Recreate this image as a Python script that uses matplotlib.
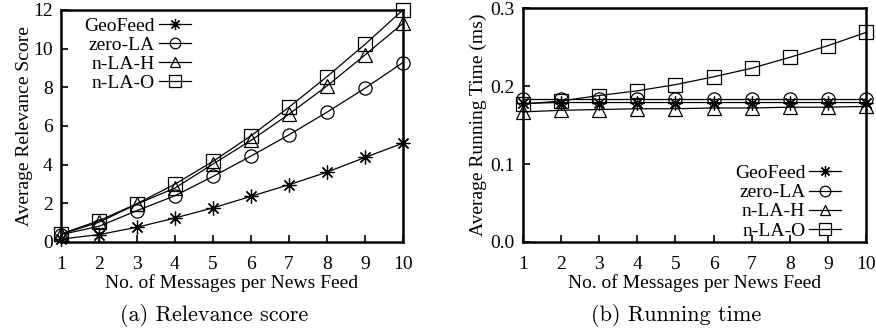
import numpy as np
import matplotlib.pyplot as plt

plt.rcParams['font.family'] = ['Liberation Serif', 'DejaVu Serif']
plt.rcParams['font.size'] = 14

msgs = [1, 2, 3, 4, 5, 6, 7, 8, 9, 10]
names = ['GeoFeed', 'zero-LA', 'n-LA-H', 'n-LA-O']

# average relevance score
score_geofeed = [0.15, 0.38, 0.76, 1.24, 1.76, 2.36, 2.96, 3.61, 4.37, 5.11]
score_zero = [0.38, 0.81, 1.62, 2.39, 3.39, 4.44, 5.54, 6.71, 7.95, 9.28]
score_nlah = [0.40, 1.02, 1.96, 2.79, 4.03, 5.25, 6.61, 8.07, 9.67, 11.31]
score_nlao = [0.42, 1.10, 1.98, 2.99, 4.17, 5.49, 6.97, 8.55, 10.22, 12.0]

# average running time (ms)
time_geofeed = [0.178, 0.179, 0.179, 0.179, 0.179, 0.179, 0.179, 0.179, 0.179, 0.179]
time_zero = [0.184, 0.184, 0.184, 0.184, 0.184, 0.184, 0.184, 0.184, 0.184, 0.184]
time_nlah = [0.167, 0.169, 0.170, 0.171, 0.171, 0.172, 0.172, 0.173, 0.173, 0.174]
time_nlao = [0.177, 0.181, 0.188, 0.194, 0.202, 0.212, 0.223, 0.237, 0.252, 0.269]

markers = [(8, 2, 0), 'o', '^', 's']
msize = [10, 9.5, 9.5, 10]

fig = plt.figure(figsize=(8.76, 3.31), dpi=100)
ax1 = fig.add_axes([0.0696, 0.269, 0.3904, 0.701])
ax2 = fig.add_axes([0.597, 0.269, 0.3916, 0.706])

leg_kw = dict(markerfirst=False, frameon=False, handlelength=1.65,
              handletextpad=0.2, labelspacing=0.08, borderaxespad=0.2,
              markerscale=0.8)


def draw(ax, series):
    for ys, name, m, s in zip(series, names, markers, msize):
        ax.plot(msgs, ys, color='black', lw=0.9, marker=m, ms=s,
                mfc='none', mec='black', mew=0.9, label=name, clip_on=False)
    ax.set_xlim(1, 10)
    ax.set_xticks(msgs)
    ax.tick_params(direction='in', length=5, width=1.2, pad=6)
    ax.tick_params(axis='x', pad=10)
    for sp in ax.spines.values():
        sp.set_linewidth(1.8)
    ax.set_xlabel('No. of Messages per News Feed', labelpad=1)


draw(ax1, [score_geofeed, score_zero, score_nlah, score_nlao])
ax1.set_ylim(0, 12)
ax1.set_yticks([0, 2, 4, 6, 8, 10, 12])
ax1.set_ylabel('Average Relevance Score', labelpad=0)
ax1.legend(loc='upper left', bbox_to_anchor=(0.035, 1.02), **leg_kw)

draw(ax2, [time_geofeed, time_zero, time_nlah, time_nlao])
ax2.set_ylim(0, 0.3)
ax2.set_yticks([0.0, 0.1, 0.2, 0.3])
ax2.set_yticklabels(['0.0', '0.1', '0.2', '0.3'])
ax2.set_ylabel('Average Running Time (ms)', labelpad=2)
ax2.legend(loc='lower right', bbox_to_anchor=(0.962, -0.04), **leg_kw)

fig.text(0.245, 0.03, '(a) Relevance score', family='cmr10', fontsize=16, ha='center')
fig.text(0.772, 0.03, '(b) Running time', family='cmr10', fontsize=16, ha='center')

fig.savefig('out.png', dpi=100)
